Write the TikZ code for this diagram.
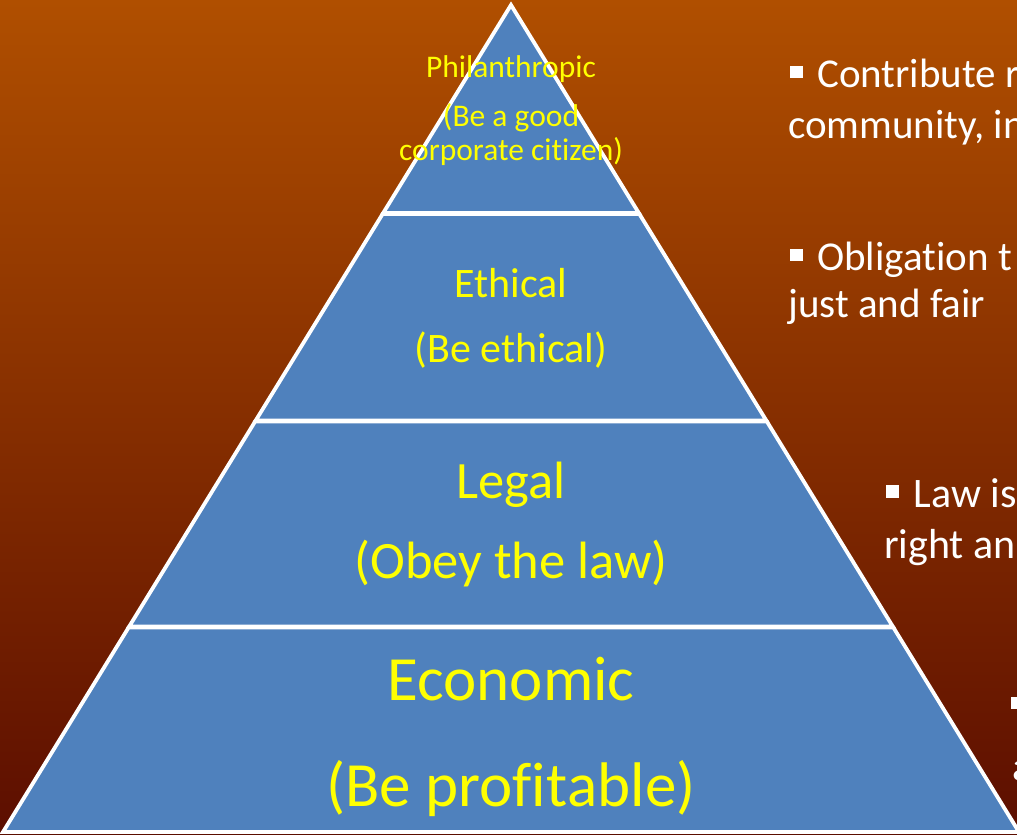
\documentclass[tikz,border=0pt]{standalone}
\usepackage{fontspec}
\setmainfont{Carlito}[Ligatures=NoCommon]
\definecolor{bgtop}{HTML}{B04F00}
\definecolor{bgbottom}{HTML}{5C0E00}
\definecolor{tierblue}{HTML}{4F81BD}
\definecolor{tiertext}{HTML}{FFFF00}
\newcommand{\sqbullet}{\rule[0.22em]{0.3em}{0.3em}\hspace{0.36em}}
% keeps letter pairs such as t-i and f-i as separate glyphs
\newcommand{\nolig}{\kern0pt}
\tikzset{
  tier/.style={fill=tierblue, draw=white, line width=3.8pt, line join=miter},
  label/.style={anchor=base, inner sep=0pt, text=tiertext},
  note/.style={anchor=base west, inner sep=0pt, text=white, font=\fontsize{41}{48}\selectfont},
}
\begin{document}
\begin{tikzpicture}[x=1pt, y=-1pt]
  \useasboundingbox (0,0) rectangle (1017,835);
  \clip (0,0) rectangle (1017,835);
  % background
  \shade[top color=bgtop, bottom color=bgbottom] (0,0) rectangle (1017,835);

  % the four tiers of the pyramid
  \draw[tier] (511,5) -- (638.8,213) -- (383.2,213) -- cycle;
  \draw[tier] (382.6,214) -- (639.4,214) -- (766.3,420.5) -- (255.7,420.5) -- cycle;
  \draw[tier] (255.1,421.5) -- (766.9,421.5) -- (892.8,626.5) -- (129.2,626.5) -- cycle;
  \draw[tier] (128.6,627.5) -- (893.4,627.5) -- (1019,832) -- (3,832) -- cycle;

  % tier labels
  \node[label, font=\fontsize{31.5}{36}\selectfont] (phil) at (511,77) {Philanthropic};
  \node[label, font=\fontsize{31.5}{36}\selectfont] (philA) at (511,126) {(Be a good};
  \node[label, font=\fontsize{31.5}{36}\selectfont] (philB) at (511,160) {corporate cit\nolig izen)};
  \node[label, font=\fontsize{42}{50}\selectfont] (eth) at (511,297) {Ethical};
  \node[label, font=\fontsize{42}{50}\selectfont] (ethA) at (511,362) {(Be ethical)};
  \node[label, font=\fontsize{52.5}{62}\selectfont] (leg) at (511,498) {Legal};
  \node[label, font=\fontsize{52.5}{62}\selectfont] (legA) at (511,578) {(Obey the law)};
  \node[label, font=\fontsize{63}{76}\selectfont] (eco) at (511,700) {Economic};
  \node[label, font=\fontsize{63}{76}\selectfont] (ecoA) at (511,806) {(Be prof\nolig it\nolig able)};

  % notes on the right
  \node[note] (n1) at (790,87) {\sqbullet Contribute r};
  \node[note] (n1b) at (788,138) {community, in};
  \node[note] (n2) at (790,270) {\sqbullet Obligat\nolig ion t};
  \node[note] (n2b) at (788,317) {just and fair};
  \node[note, font=\fontsize{42}{50}\selectfont] (n3) at (886,507) {\sqbullet Law is};
  \node[note, font=\fontsize{42}{50}\selectfont] (n3b) at (884,558) {right an};
  \node[note] (n4) at (1011,718) {\sqbullet};
  \node[note] (n4b) at (1012,780) {a};
\end{tikzpicture}
\end{document}
